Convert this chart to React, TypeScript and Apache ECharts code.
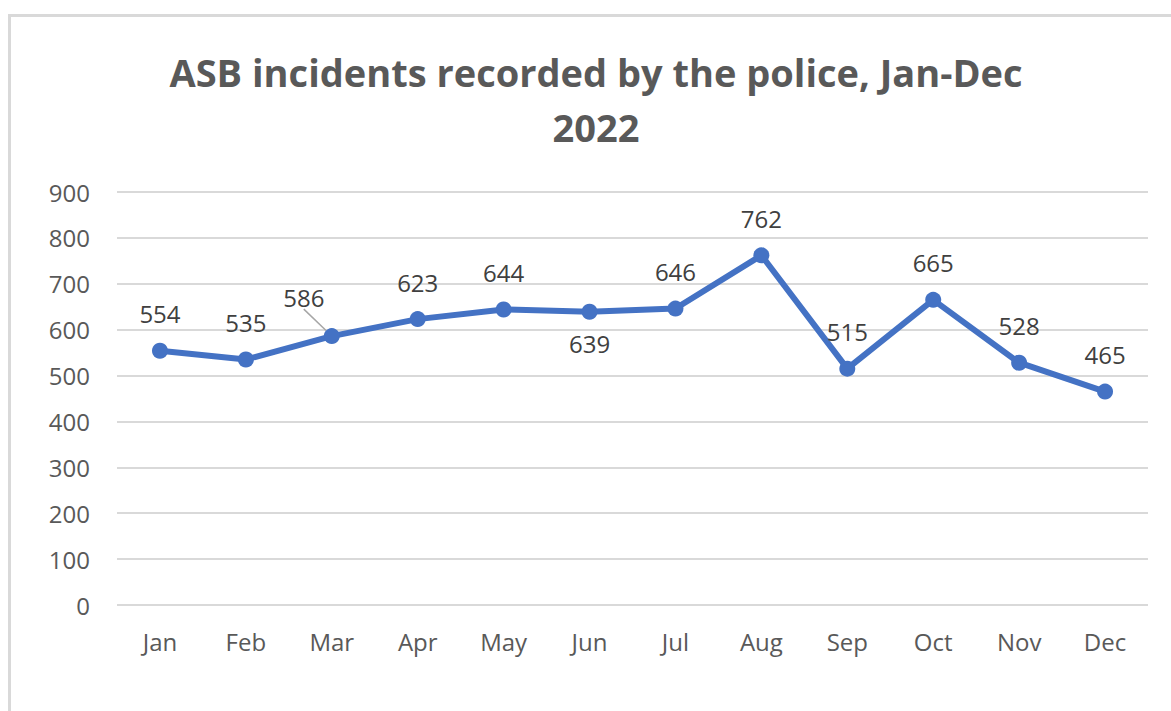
import React, { useEffect, useRef } from "react";
import * as echarts from "echarts";

const months = ["Jan", "Feb", "Mar", "Apr", "May", "Jun", "Jul", "Aug", "Sep", "Oct", "Nov", "Dec"];
const incidents = [554, 535, 586, 623, 644, 639, 646, 762, 515, 665, 528, 465];
const titleLines = ["ASB incidents recorded by the police, Jan-Dec", "2022"];

const FONT = "'Open Sans', 'DejaVu Sans', sans-serif";

export default function App() {
  const ref = useRef<HTMLDivElement>(null);
  useEffect(() => {
    if (!ref.current) return;
    const chart = echarts.init(ref.current, null, { renderer: "svg" });
    const data = incidents.map((v, i) => {
      if (i === 2) {
        return { value: v, labelLine: { show: true, lineStyle: { color: "#a6a6a6", width: 1.5 } } };
      }
      if (i === 5) {
        return { value: v, label: { position: "bottom", distance: 12 } };
      }
      return { value: v };
    });
    chart.setOption({
      animation: false,
      backgroundColor: "#ffffff",
      title: {
        text: titleLines.join("\n"),
        left: 596,
        textAlign: "center",
        top: 44,
        padding: 0,
        textStyle: {
          fontFamily: FONT,
          fontWeight: "bold",
          fontSize: 38,
          color: "#595959",
          lineHeight: 55,
        },
      },
      graphic: [
        { type: "line", shape: { x1: 9.5, y1: 14, x2: 9.5, y2: 711 }, style: { stroke: "#d9d9d9", lineWidth: 3 } },
        { type: "line", shape: { x1: 8, y1: 15.5, x2: 1171, y2: 15.5 }, style: { stroke: "#d9d9d9", lineWidth: 3 } },
      ],
      grid: { left: 117, right: 23, top: 192, bottom: 106 },
      xAxis: {
        type: "category",
        data: months,
        boundaryGap: true,
        axisLine: { show: false },
        axisTick: { show: false },
        axisLabel: { color: "#595959", fontFamily: FONT, fontSize: 24, margin: 24 },
      },
      yAxis: {
        type: "value",
        min: 0,
        max: 900,
        interval: 100,
        axisLine: { show: false },
        axisTick: { show: false },
        splitLine: { lineStyle: { color: "#d9d9d9", width: 2 } },
        axisLabel: { color: "#595959", fontFamily: FONT, fontSize: 24, margin: 27 },
      },
      series: [
        {
          type: "line",
          data,
          symbol: "circle",
          symbolSize: 16,
          itemStyle: { color: "#4472C4" },
          lineStyle: { color: "#4472C4", width: 6 },
          label: {
            show: true,
            position: "top",
            distance: 17,
            color: "#404040",
            fontFamily: FONT,
            fontSize: 24,
          },
          labelLayout: (params: any) => (params.dataIndex === 2 ? { dx: -28, dy: -2 } : {}),
        },
      ],
    });
    return () => chart.dispose();
  }, []);
  return (
    <div style={{ position: "fixed", left: 0, top: 0, width: 1171, height: 711, overflow: "hidden", background: "#fff" }}>
      <div ref={ref} style={{ width: 1171, height: 711 }} />
    </div>
  );
}
